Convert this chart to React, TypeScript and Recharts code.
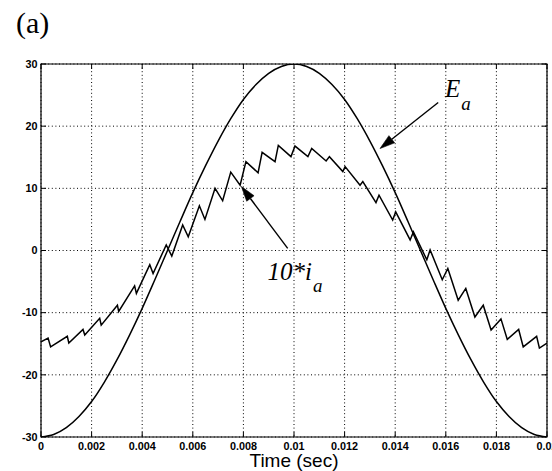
import React from 'react';
import {
  LineChart,
  Line,
  XAxis,
  YAxis,
  CartesianGrid,
  ReferenceArea,
  ReferenceLine,
  ReferenceDot,
} from 'recharts';

// ---- tick labels ----
const timeTicks = [0, 0.002, 0.004, 0.006, 0.008, 0.01, 0.012, 0.014, 0.016, 0.018, 0.02];
const valueTicks = [-30, -20, -10, 0, 10, 20, 30];

// ---- E_a (smooth back-emf curve) ----
const eaTime = [
  0, 0.0005, 0.001, 0.0015, 0.002, 0.0025, 0.003, 0.0035, 0.004, 0.0045,
  0.005, 0.0055, 0.006, 0.0065, 0.007, 0.0075, 0.008, 0.0085, 0.009, 0.0095,
  0.01, 0.0105, 0.011, 0.0115, 0.012, 0.0125, 0.013, 0.0135, 0.014, 0.0145,
  0.015, 0.0155, 0.016, 0.0165, 0.017, 0.0175, 0.018, 0.0185, 0.019, 0.0195, 0.02,
];
const eaValue = [
  -30, -29.6, -28.5, -26.7, -24.3, -21.2, -17.6, -13.6, -9.3, -4.7,
  0, 4.7, 9.3, 13.6, 17.6, 21.2, 24.3, 26.7, 28.5, 29.6,
  30, 29.6, 28.5, 26.7, 24.3, 21.2, 17.6, 13.6, 9.3, 4.7,
  0, -4.7, -9.3, -13.6, -17.6, -21.2, -24.3, -26.7, -28.5, -29.6, -30,
];

// ---- 10*i_a (sawtooth current) ----
const iaTime = [
  0, 0.00028, 0.00038, 0.00104, 0.0011, 0.00166, 0.00173, 0.00232, 0.00238, 0.00302,
  0.00307, 0.0037, 0.00377, 0.0043, 0.00443, 0.00495, 0.00517, 0.0056, 0.00582, 0.00626,
  0.00648, 0.00688, 0.00718, 0.0075, 0.00787, 0.0081, 0.00858, 0.00874, 0.00925, 0.00938,
  0.00988, 0.01004, 0.01055, 0.0107, 0.01127, 0.0114, 0.01193, 0.01202, 0.01261, 0.01272,
  0.01324, 0.01336, 0.0139, 0.01402, 0.01459, 0.01472, 0.01525, 0.01538, 0.01586, 0.01608,
  0.01649, 0.01679, 0.01715, 0.01748, 0.01779, 0.01818, 0.01843, 0.01888, 0.01906, 0.01959,
  0.0197, 0.02,
];
const iaValue = [
  -14.7, -14.1, -15.5, -13.8, -14.9, -12.7, -13.6, -10.9, -12.0, -8.8,
  -9.8, -5.7, -6.9, -2.3, -3.7, 0.9, -0.9, 4.1, 2.2, 7.2,
  5.0, 10.0, 8.0, 12.6, 10.5, 14.3, 12.5, 15.8, 14.3, 16.9,
  15.1, 16.8, 15.1, 16.4, 14.4, 15.1, 12.7, 13.5, 10.5, 11.1,
  7.7, 8.9, 4.9, 6.2, 1.7, 3.0, -1.5, 0.1, -4.7, -2.9,
  -8.0, -6.1, -10.7, -8.8, -12.8, -11.0, -14.3, -12.7, -15.5, -13.8,
  -15.7, -14.9,
];

// ---- annotations (data coordinates) ----
const eaArrowFrom = { x: 0.0157, y: 23.8 };
const eaArrowTo = { x: 0.0134, y: 16.4 };
const iaArrowFrom = { x: 0.00975, y: 0.35 };
const iaArrowTo = { x: 0.00792, y: 10.3 };
const eaLabelPos = { x: 0.01597, y: 24.7 };
const iaLabelPos = { x: 0.00895, y: -4.8 };

const eaData = eaTime.map((t, i) => ({ t, v: eaValue[i] }));
const iaData = iaTime.map((t, i) => ({ t, v: iaValue[i] }));

const W = 552;
const H = 471;
const PLOT_TOP = 64;
const PLOT_LEFT = 41;
const PLOT_RIGHT = 547;
const PLOT_BOTTOM = 437;
const TICK_LEN = 5;
const TICK_FONT = "'Liberation Sans', Arial, Helvetica, sans-serif";
const SERIF = "'Liberation Serif', 'Times New Roman', serif";

const XTick = (props: any) => {
  const { x, payload } = props;
  return (
    <g>
      <line x1={x} y1={PLOT_BOTTOM} x2={x} y2={PLOT_BOTTOM - TICK_LEN} stroke="#000" strokeWidth={1} />
      <line x1={x} y1={PLOT_TOP} x2={x} y2={PLOT_TOP + TICK_LEN} stroke="#000" strokeWidth={1} />
      <text
        x={x}
        y={PLOT_BOTTOM + 12.5}
        textAnchor="middle"
        fontFamily={TICK_FONT}
        fontWeight="bold"
        fontSize={10.8}
        fill="#000"
      >
        {String(payload.value)}
      </text>
    </g>
  );
};

const YTick = (props: any) => {
  const { y, payload } = props;
  return (
    <g>
      <line x1={PLOT_LEFT} y1={y} x2={PLOT_LEFT + TICK_LEN} y2={y} stroke="#000" strokeWidth={1} />
      <line x1={PLOT_RIGHT} y1={y} x2={PLOT_RIGHT - TICK_LEN} y2={y} stroke="#000" strokeWidth={1} />
      <text
        x={PLOT_LEFT - 3.5}
        y={y + 3.8}
        textAnchor="end"
        fontFamily={TICK_FONT}
        fontWeight="bold"
        fontSize={10.8}
        fill="#000"
      >
        {String(payload.value)}
      </text>
    </g>
  );
};

const XLabel = (props: any) => {
  const vb = props.viewBox || {};
  const cx = (vb.x ?? PLOT_LEFT) + (vb.width ?? PLOT_RIGHT - PLOT_LEFT) / 2;
  return (
    <text x={cx} y={PLOT_BOTTOM + 30} textAnchor="middle" fontFamily={TICK_FONT} fontSize={19} fill="#000">
      Time (sec)
    </text>
  );
};

const ArrowShape = (props: any) => {
  const { x1, y1, x2, y2 } = props;
  const dx = x2 - x1;
  const dy = y2 - y1;
  const len = Math.sqrt(dx * dx + dy * dy) || 1;
  const ux = dx / len;
  const uy = dy / len;
  const headLen = 15;
  const headHalf = 4.6;
  const bx = x2 - ux * headLen;
  const by = y2 - uy * headLen;
  const px = -uy * headHalf;
  const py = ux * headHalf;
  return (
    <g>
      <line x1={x1} y1={y1} x2={bx} y2={by} stroke="#000" strokeWidth={1.4} />
      <polygon points={`${x2},${y2} ${bx + px},${by + py} ${bx - px},${by - py}`} fill="#000" stroke="#000" strokeWidth={0.6} />
    </g>
  );
};

const EaLabel = (props: any) => {
  const { cx, cy } = props;
  return (
    <text x={cx} y={cy} fontFamily={SERIF} fontStyle="italic" fontSize={25} fill="#000">
      E
      <tspan dx={1} dy={13} fontSize={19}>a</tspan>
    </text>
  );
};

const IaLabel = (props: any) => {
  const { cx, cy } = props;
  return (
    <text x={cx} y={cy} fontFamily={SERIF} fontStyle="italic" fontSize={25} fill="#000">
      10*i
      <tspan dx={1} dy={12} fontSize={19}>a</tspan>
    </text>
  );
};

export default function App() {
  return (
    <div style={{ position: 'absolute', left: 0, top: 0, width: W, height: H, background: '#fff' }}>
      <svg width={W} height={H} style={{ position: 'absolute', left: 0, top: 0 }}>
        <text x={16} y={33} fontFamily={SERIF} fontSize={30} fill="#000">(a)</text>
      </svg>
      <div style={{ position: 'absolute', left: 0, top: 0 }}>
        <LineChart width={W} height={H} margin={{ top: PLOT_TOP, right: W - PLOT_RIGHT, bottom: 0, left: 0 }}>
          <CartesianGrid stroke="#000" strokeDasharray="1 2.6" strokeWidth={1} />
          <XAxis
            type="number"
            dataKey="t"
            domain={[0, 0.02]}
            ticks={timeTicks}
            interval={0}
            height={H - PLOT_BOTTOM}
            axisLine={false}
            tickLine={false}
            tickSize={0}
            tickMargin={0}
            tick={<XTick />}
            label={<XLabel />}
            allowDataOverflow
          />
          <YAxis
            type="number"
            domain={[-30, 30]}
            ticks={valueTicks}
            interval={0}
            width={PLOT_LEFT}
            axisLine={false}
            tickLine={false}
            tickSize={0}
            tickMargin={0}
            tick={<YTick />}
            allowDataOverflow
          />
          <ReferenceArea x1={0} x2={0.02} y1={-30} y2={30} fill="none" fillOpacity={0} stroke="#000" strokeWidth={1.2} ifOverflow="visible" />
          <Line data={eaData} dataKey="v" type="monotone" stroke="#000" strokeWidth={1.5} dot={false} isAnimationActive={false} />
          <Line data={iaData} dataKey="v" type="linear" stroke="#000" strokeWidth={1.5} dot={false} isAnimationActive={false} />
          <ReferenceLine segment={[eaArrowFrom, eaArrowTo]} shape={ArrowShape} ifOverflow="visible" />
          <ReferenceLine segment={[iaArrowFrom, iaArrowTo]} shape={ArrowShape} ifOverflow="visible" />
          <ReferenceDot x={eaLabelPos.x} y={eaLabelPos.y} shape={EaLabel} ifOverflow="visible" />
          <ReferenceDot x={iaLabelPos.x} y={iaLabelPos.y} shape={IaLabel} ifOverflow="visible" />
        </LineChart>
      </div>
    </div>
  );
}
